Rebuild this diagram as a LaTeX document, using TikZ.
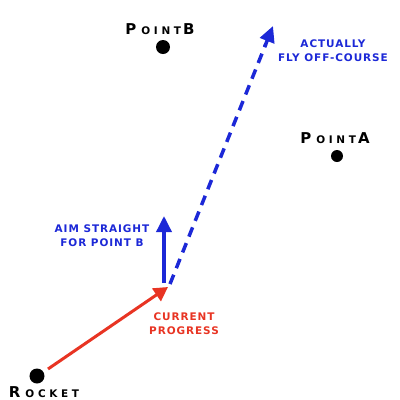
\documentclass[tikz,border=0pt]{standalone}
\usepackage{fontspec}
\setmainfont{DejaVu Sans}
\usetikzlibrary{arrows.meta,calc}
\definecolor{rred}{RGB}{232,52,35}
\definecolor{bblue}{RGB}{28,40,215}
\newfontfamily\lblfont[LetterSpace=9]{DejaVu Sans}
\newfontfamily\capfont[LetterSpace=35]{DejaVu Sans}
\tikzset{
  dotnode/.style={circle,fill=black,inner sep=0pt,minimum size=#1},
  blk/.style={font=\capfont\bfseries\fontsize{10.5}{10}\selectfont,text=black,inner sep=0pt},
  bluetxt/.style={font=\lblfont\bfseries\fontsize{10.5}{14}\selectfont,text=bblue,align=center,inner sep=0pt},
  redtxt/.style={font=\lblfont\bfseries\fontsize{10.5}{14}\selectfont,text=rred,align=center,inner sep=0pt},
}
\newcommand{\bigltr}[1]{{\fontsize{15}{15}\selectfont #1}}
\begin{document}
\begin{tikzpicture}[x=1bp,y=-1bp]
\useasboundingbox (0,0) rectangle (400,400);
% dots
\node[dotnode=15bp] (rocket) at (37,376) {};
\node[dotnode=14bp] (pb) at (163,47) {};
\node[dotnode=12bp] (pa) at (337,156) {};
% labels
\node[blk] (lrocket) at (44,392) {\bigltr{R}\hspace{5bp}OCKET};
\node[blk] (lpb) at (160,29) {\bigltr{P}\hspace{5bp}OINT\hspace{2bp}\bigltr{B}};
\node[blk] (lpa) at (335,138) {\bigltr{P}\hspace{5bp}OINT\hspace{2bp}\bigltr{A}};
% points
\coordinate (start) at (48,369);
\coordinate (cur) at (168,287);
\coordinate (aim) at (164,216);
\coordinate (off) at (273,26);
\coordinate (cstart) at (164,283);
\coordinate (dstart) at (170,284);
% arrows
\draw[rred,line width=3bp,-{Triangle[length=14bp,width=15bp]}] (start) -- (cur);
\draw[bblue,line width=3.5bp,-{Triangle[length=16bp,width=15bp]}] (cstart) -- (aim);
\draw[bblue,line width=3.5bp,dash pattern=on 10bp off 7bp] (dstart) -- ($(dstart)!0.93!(off)$);
\draw[bblue,line width=3.5bp,-{Triangle[length=16bp,width=15bp]}] ($(dstart)!0.92!(off)$) -- (off);
% texts
\node[bluetxt] (t1) at (102,236) {AIM STRAIGHT\\FOR POINT B};
\node[bluetxt] (t2) at (333,51) {ACTUALLY\\FLY OFF-COURSE};
\node[redtxt] (t3) at (184,324) {CURRENT\\PROGRESS};
\end{tikzpicture}
\end{document}
